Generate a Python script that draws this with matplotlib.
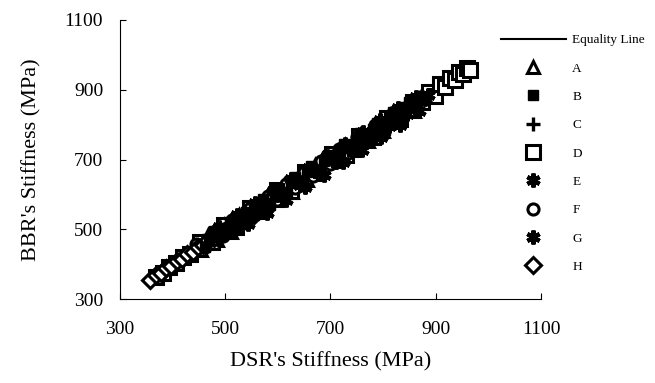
import matplotlib.pyplot as plt

plt.rcParams['font.family'] = ['Liberation Serif', 'DejaVu Serif']

# Datos (MPa)
ax_A = [441, 455, 468, 484, 497, 512, 526, 540, 555, 569, 583, 598, 612, 627, 641, 655, 670, 684, 699, 713, 727, 742, 756, 771, 785, 800, 814, 829, 843, 858, 872]
ay_A = [452, 441, 483, 470, 512, 492, 541, 528, 569, 549, 598, 583, 627, 606, 655, 640, 684, 668, 712, 697, 741, 726, 770, 752, 798, 783, 827, 810, 855, 840, 879]

bx = [462, 478, 493, 509, 524, 540, 555, 571, 586, 602, 617, 633, 648, 664, 679, 695, 710, 726, 741, 757, 772, 788, 803, 819, 834, 850, 865,
      470, 486, 501, 517, 532, 548, 563, 579, 594, 610, 625, 641, 656, 672, 687, 703, 718, 734, 749, 765, 780, 796, 811, 827, 842, 857]
by = [448, 494, 480, 522, 506, 551, 540, 587, 570, 618, 602, 649, 632, 681, 661, 712, 693, 744, 725, 775, 754, 804, 786, 836, 817, 866, 858,
      472, 478, 505, 511, 538, 545, 570, 576, 601, 607, 632, 639, 664, 670, 695, 701, 726, 732, 757, 763, 788, 794, 819, 825, 850, 852]

cx = [470, 486, 502, 518, 534, 550, 566, 582, 598, 614, 630, 646, 662, 678, 694, 710, 726, 742, 758, 774, 790, 806, 822, 838, 854, 870]
cy = [484, 470, 516, 502, 548, 533, 580, 566, 612, 598, 644, 630, 676, 661, 708, 694, 740, 726, 772, 758, 804, 789, 836, 822, 866, 880]

dx = [368, 381, 393, 406, 419, 433, 452, 475, 498, 521, 547, 573, 599, 625, 651, 677, 703, 729, 755, 781, 807, 833, 857, 874, 887, 898, 908, 918, 927, 936, 944, 952, 960, 966]
dy = [362, 376, 393, 403, 421, 430, 465, 463, 513, 506, 561, 560, 613, 611, 664, 662, 716, 714, 768, 765, 819, 815, 866, 864, 893, 883, 915, 908, 935, 928, 951, 946, 962, 957]

ex = [489, 506, 523, 540, 557, 574, 591, 608, 625, 642, 659, 676, 693, 710, 727, 744, 761, 778, 795, 812, 829, 846, 863, 880]
ey = [507, 491, 541, 524, 575, 558, 609, 592, 643, 626, 677, 660, 711, 694, 745, 728, 779, 762, 813, 796, 847, 829, 878, 873]

fx = [428, 445, 462, 479, 496, 513, 530, 547, 564, 581, 598, 615, 632, 649, 666, 683, 700, 717, 734, 751, 768, 785, 802, 819, 836, 853]
fy = [423, 458, 449, 493, 482, 527, 516, 561, 550, 595, 584, 629, 618, 663, 652, 697, 686, 731, 720, 765, 754, 799, 788, 833, 822, 862]

gx = [508, 526, 544, 562, 580, 598, 616, 634, 652, 670, 688, 706, 724, 742, 760, 778, 796, 814, 832, 850, 868, 886]
gy = [494, 527, 514, 563, 548, 599, 584, 635, 620, 671, 656, 707, 692, 743, 728, 779, 764, 815, 800, 851, 838, 884]

hx = [358, 368, 378, 388, 398, 408, 418, 428, 438, 448, 458, 468, 478, 490, 502, 515, 528, 541, 555]
hy = [354, 369, 374, 389, 394, 410, 414, 430, 434, 450, 455, 470, 474, 491, 496, 512, 520, 536, 541]

ticks = [300, 500, 700, 900, 1100]

fig = plt.figure(figsize=(6.55, 3.83), dpi=100)
ax = fig.add_axes([0.183, 0.219, 0.643, 0.729])

# Linea de igualdad
lo = min(hx + dx)
hi = max(dx)
ax.plot([lo, hi], [lo, hi], color='black', lw=1.5, label='Equality Line')

estilos = [
    ('A', ax_A, ay_A, dict(marker='^', ms=9, mfc='white', mew=2.2)),
    ('B', bx, by, dict(marker='s', ms=7, mfc='black', mew=1, zorder=4)),
    ('C', cx, cy, dict(marker='+', ms=10, mew=2.4, zorder=4)),
    ('D', dx, dy, dict(marker='s', ms=10, mfc='white', mew=2.2)),
    ('E', ex, ey, dict(marker=(6, 2, 0), ms=10, mew=3, zorder=4)),
    ('F', fx, fy, dict(marker='o', ms=8, mfc='white', mew=2.2)),
    ('G', gx, gy, dict(marker=(6, 2, 0), ms=10, mew=3, zorder=4)),
    ('H', hx, hy, dict(marker='D', ms=8, mfc='white', mew=2.2)),
]
for nombre, x, y, st in estilos:
    ax.plot(x, y, linestyle='none', color='black', mec='black', label=nombre, **st)

ax.set_xlim(300, 1100)
ax.set_ylim(300, 1100)
ax.set_xticks(ticks)
ax.set_yticks(ticks)
ax.tick_params(direction='in', length=4, labelsize=14, pad=12)
ax.tick_params(axis='x', pad=16)
for s in ['top', 'right']:
    ax.spines[s].set_visible(False)
ax.set_xlabel("DSR's Stiffness (MPa)", fontsize=16, labelpad=10)
ax.set_ylabel("BBR's Stiffness (MPa)", fontsize=16, labelpad=17)

fig.legend(loc='upper left', bbox_to_anchor=(0.757, 0.925), frameon=False,
           fontsize=9.5, handlelength=4.9, handletextpad=0.5, labelspacing=1.22,
           borderaxespad=0)

plt.savefig('out.png', dpi=100)
